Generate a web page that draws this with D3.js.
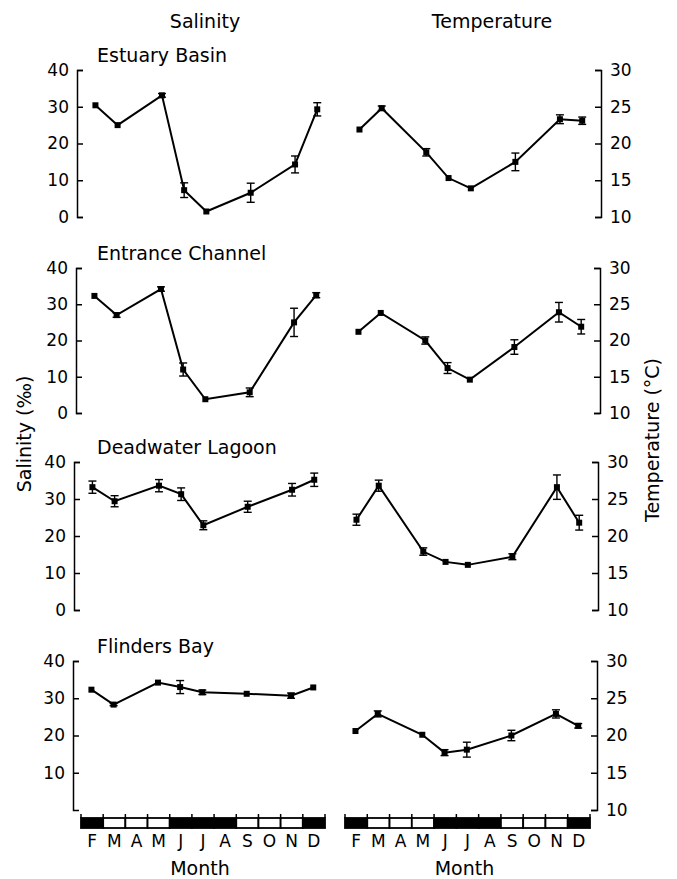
<!DOCTYPE html>
<html>
<head>
<meta charset="utf-8">
<script src="https://cdn.jsdelivr.net/npm/d3@7"></script>
<style>
  body { margin: 0; background: #fff; }
  text { font-family: "DejaVu Sans", sans-serif; fill: #000; }
  .axis path, .axis line { stroke: #000; stroke-width: 1.5; }
  .axis text { font-size: 17px; }
  .title { font-size: 19px; }
  .month { font-size: 17px; }
</style>
</head>
<body>
<svg id="chart"></svg>
<script>
// set svg size
const width = 677;
const height = 879;

// months along the bottom bar, feb to dec
const months = ["F", "M", "A", "M", "J", "J", "A", "S", "O", "N", "D"];
// 1 = black segment in the month bar
const darkMonth = [1, 0, 0, 0, 1, 1, 1, 0, 0, 0, 1];
// index into months for each sampling trip
const sampleMonth = [0, 1, 3, 4, 5, 7, 9, 10];

const sites = ["Estuary Basin", "Entrance Channel", "Deadwater Lagoon", "Flinders Bay"];

const salinity = [
  [30.4, 25.0, 33.1, 7.3, 1.5, 6.6, 14.3, 29.3],
  [32.3, 27.0, 34.2, 12.0, 3.8, 5.7, 25.0, 32.5],
  [33.2, 29.4, 33.6, 31.3, 22.9, 27.9, 32.5, 35.2],
  [32.3, 28.3, 34.2, 33.0, 31.6, 31.2, 30.7, 32.9]
];
const salinityErr = [
  [0, 0, 0.5, 2.0, 0, 2.6, 2.3, 1.8],
  [0, 0.6, 0.6, 1.8, 0, 1.2, 3.9, 0.7],
  [1.65, 1.5, 1.65, 1.7, 1.2, 1.5, 1.7, 1.8],
  [0, 0.3, 0, 1.75, 0.6, 0, 0.7, 0]
];

const temperature = [
  [21.9, 24.8, 18.8, 15.3, 13.9, 17.5, 23.3, 23.1],
  [21.2, 23.8, 20.0, 16.2, 14.6, 19.1, 23.9, 21.9],
  [22.2, 26.8, 17.9, 16.5, 16.1, 17.2, 26.6, 21.8],
  [20.6, 22.9, 20.1, 17.7, 18.1, 20.0, 22.9, 21.3]
];
const temperatureErr = [
  [0, 0.3, 0.5, 0, 0, 1.2, 0.6, 0.5],
  [0, 0, 0.5, 0.75, 0, 1.0, 1.35, 1.0],
  [0.75, 0.75, 0.5, 0, 0, 0.4, 1.65, 1.0],
  [0, 0.4, 0, 0.4, 1.0, 0.7, 0.55, 0.3]
];

const salinityTicks = [0, 10, 20, 30, 40];
const salinityTicksLast = [10, 20, 30, 40];
const temperatureTicks = [10, 15, 20, 25, 30];

// layout (hand-fit to the scanned figure, rows drift a few px)
const rowTop = [70, 268, 462, 661];
const rowBottom = [217, 413, 610, 810];
const rowShift = [4, 3, 1, 0];
const leftBand = [81, 325];
const rightBand = [345, 590];
const barTop = 818;
const barHeight = 10;

const svg = d3.select("#chart")
  .attr("width", width)
  .attr("height", height);

svg.append("rect").attr("width", width).attr("height", height).attr("fill", "#fff");

drawTitles();
for (let r = 0; r < sites.length; r++) {
  drawPanel(r, 0, salinity[r], salinityErr[r]);
  drawPanel(r, 1, temperature[r], temperatureErr[r]);
}
drawMonthBar(leftBand);
drawMonthBar(rightBand);

function translate(x, y) {
  return "translate(" + String(x) + "," + String(y) + ")";
}

function monthScale(range, shift) {
  return d3.scaleBand()
    .domain(d3.range(months.length))
    .range([range[0] + shift, range[1] + shift]);
}

/*
 * one small panel: axis, line, error bars and square markers
 */
function drawPanel(row, col, values, errs) {
  let shift = rowShift[row];
  let xScale = monthScale(col == 0 ? leftBand : rightBand, shift);
  let yScale = d3.scaleLinear()
    .domain(col == 0 ? [0, 40] : [10, 30])
    .range([rowBottom[row], rowTop[row]]);

  let xPos = i => xScale(sampleMonth[i]) + xScale.bandwidth() * 0.47;

  let g = svg.append("g").attr("class", "panel");

  let axis;
  if (col == 0) {
    axis = d3.axisLeft(yScale)
      .tickValues(row == sites.length - 1 ? salinityTicksLast : salinityTicks)
      .tickFormat(d3.format("d"))
      .tickSize(-6).tickSizeOuter(-6).tickPadding(8);
    g.append("g").attr("class", "axis")
      .attr("transform", translate(73 + shift, 0))
      .call(axis);

    g.append("text")
      .attr("class", "title")
      .attr("x", 97)
      .attr("y", rowTop[row] - 8)
      .text(sites[row]);
  } else {
    axis = d3.axisRight(yScale)
      .tickValues(temperatureTicks)
      .tickFormat(d3.format("d"))
      .tickSize(-6).tickSizeOuter(-6).tickPadding(9);
    g.append("g").attr("class", "axis")
      .attr("transform", translate(597 + shift, 0))
      .call(axis);
  }

  let line = d3.line()
    .x((d, i) => xPos(i))
    .y(d => yScale(d));

  g.append("path")
    .datum(values)
    .attr("d", line)
    .attr("fill", "none")
    .attr("stroke", "#000")
    .attr("stroke-width", 2);

  // error bars, only where the scan shows them
  let bars = g.append("g").selectAll("g")
    .data(values.map((v, i) => ({ v: v, e: errs[i], i: i })).filter(d => d.e > 0))
    .enter()
    .append("g")
    .attr("stroke", "#000")
    .attr("stroke-width", 1.4);

  bars.append("line")
    .attr("x1", d => xPos(d.i)).attr("x2", d => xPos(d.i))
    .attr("y1", d => yScale(d.v - d.e)).attr("y2", d => yScale(d.v + d.e));
  bars.append("line")
    .attr("x1", d => xPos(d.i) - 4).attr("x2", d => xPos(d.i) + 4)
    .attr("y1", d => yScale(d.v - d.e)).attr("y2", d => yScale(d.v - d.e));
  bars.append("line")
    .attr("x1", d => xPos(d.i) - 4).attr("x2", d => xPos(d.i) + 4)
    .attr("y1", d => yScale(d.v + d.e)).attr("y2", d => yScale(d.v + d.e));

  g.append("g").selectAll("rect")
    .data(values)
    .enter()
    .append("rect")
    .attr("x", (d, i) => xPos(i) - 3)
    .attr("y", d => yScale(d) - 3)
    .attr("width", 6)
    .attr("height", 6)
    .attr("fill", "#000");
}

/*
 * black / white month bar with letters underneath
 */
function drawMonthBar(range) {
  let xScale = monthScale(range, 0);
  let g = svg.append("g").attr("class", "month-bar");

  g.selectAll("rect")
    .data(months)
    .enter()
    .append("rect")
    .attr("x", (d, i) => xScale(i))
    .attr("y", barTop)
    .attr("width", xScale.bandwidth())
    .attr("height", barHeight)
    .attr("fill", (d, i) => darkMonth[i] ? "#000" : "#fff")
    .attr("stroke", "#000")
    .attr("stroke-width", 1.8);

  // small ticks poking above the bar at month boundaries
  g.selectAll("line")
    .data(d3.range(months.length + 1))
    .enter()
    .append("line")
    .attr("x1", i => xScale.range()[0] + i * xScale.step())
    .attr("x2", i => xScale.range()[0] + i * xScale.step())
    .attr("y1", barTop - 4)
    .attr("y2", barTop)
    .attr("stroke", "#000")
    .attr("stroke-width", 1.5);

  g.selectAll("text")
    .data(months)
    .enter()
    .append("text")
    .attr("class", "month")
    .attr("x", (d, i) => xScale(i) + xScale.bandwidth() / 2)
    .attr("y", 847)
    .attr("text-anchor", "middle")
    .text(d => d);

  g.append("text")
    .attr("class", "title")
    .attr("x", (range[0] + range[1]) / 2 - 3)
    .attr("y", 875)
    .attr("text-anchor", "middle")
    .text("Month");
}

function drawTitles() {
  svg.append("text")
    .attr("class", "title")
    .attr("x", 205)
    .attr("y", 28)
    .attr("text-anchor", "middle")
    .text("Salinity");

  svg.append("text")
    .attr("class", "title")
    .attr("x", 492)
    .attr("y", 28)
    .attr("text-anchor", "middle")
    .text("Temperature");

  // rotate inside a group, keep x, y at 0
  svg.append("g")
    .attr("transform", translate(31, 434))
    .append("text")
    .attr("class", "title")
    .attr("text-anchor", "middle")
    .attr("transform", "rotate(-90)")
    .text("Salinity (‰)");

  svg.append("g")
    .attr("transform", translate(659, 440))
    .append("text")
    .attr("class", "title")
    .attr("text-anchor", "middle")
    .attr("transform", "rotate(-90)")
    .text("Temperature (°C)");
}
</script>
</body>
</html>
